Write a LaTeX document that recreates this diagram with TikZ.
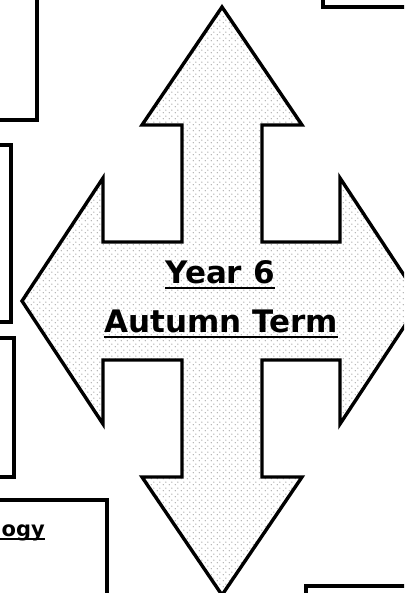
\documentclass[tikz,border=0pt]{standalone}
\usepackage{fontspec}
\setmainfont{DejaVu Sans}
\usetikzlibrary{patterns.meta}
\tikzdeclarepattern{
  name=mydots,
  type=uncolored,
  bottom left={(0pt,0pt)},
  top right={(6pt,6pt)},
  tile size={(6pt,6pt)},
  code={
    \pgfpathcircle{\pgfqpoint{1.5pt}{1.5pt}}{0.75pt}
    \pgfpathcircle{\pgfqpoint{4.5pt}{4.5pt}}{0.75pt}
    \pgfusepath{fill}
  }
}
\tikzset{
  boxline/.style={draw=black, line width=3.5pt, fill=white},
  arrowshape/.style={draw=black, line width=3.4pt, line join=miter,
    preaction={fill=white}, pattern={mydots}, pattern color=gray!75},
  titletext/.style={font=\bfseries\fontsize{31}{36}\selectfont, inner sep=0pt, anchor=base},
  uline/.style={line width=2pt}
}
\begin{document}
\begin{tikzpicture}[x=1pt,y=-1pt]
\useasboundingbox (0,0) rectangle (404,593);
\clip (0,0) rectangle (404,593);
\fill[white] (0,0) rectangle (404,593);
% partial boxes
\draw[boxline] (-10,-10) rectangle (37,120);
\draw[boxline] (-10,145) rectangle (11,322);
\draw[boxline] (-10,338) rectangle (14,477);
\draw[boxline] (-10,500) rectangle (107,610);
\draw[boxline] (323,-10) rectangle (414,7);
\draw[boxline] (306,586) rectangle (414,610);
\node[font=\bfseries\fontsize{21}{24}\selectfont, inner sep=0pt, anchor=base east] (logy) at (45,536) {logy};
\draw[uline, line width=1.6pt] ([yshift=-3pt]logy.base west) -- ([yshift=-3pt]logy.base east);
% four-way arrow
\draw[arrowshape] (222,7) -- (302,125) -- (262,125) -- (262,242) -- (340,242) -- (340,178)
  -- (421,301) -- (340,424) -- (340,360) -- (262,360) -- (262,477) -- (302,477)
  -- (222,595) -- (142,477) -- (182,477) -- (182,360) -- (103,360) -- (103,424)
  -- (22,301) -- (103,178) -- (103,242) -- (182,242) -- (182,125) -- (142,125) -- cycle;
% title
\node[titletext] (year) at (220,283) {Year 6};
\node[titletext] (term) at (221,332) {Autumn Term};
\draw[uline] ([yshift=-5pt]year.base west) -- ([yshift=-5pt]year.base east);
\draw[uline] ([yshift=-5pt]term.base west) -- ([yshift=-5pt]term.base east);
\end{tikzpicture}
\end{document}
